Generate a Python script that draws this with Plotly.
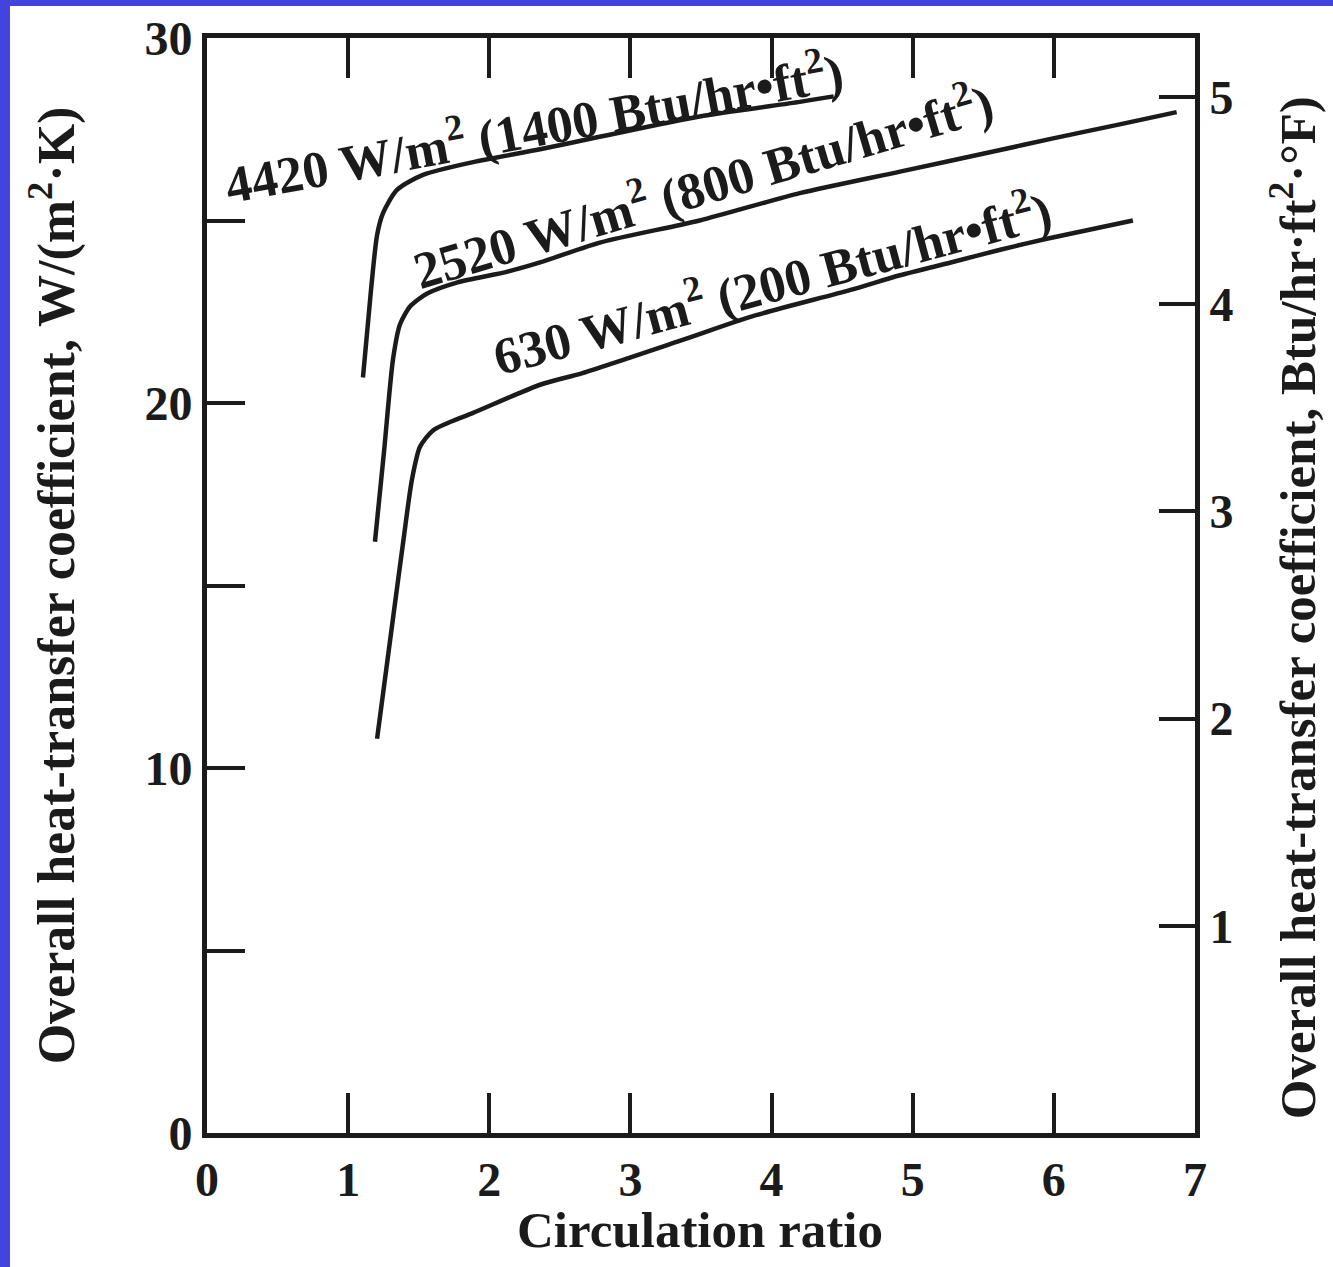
import plotly.graph_objects as go

# ---- data ----
ratio_4420 = [1.105, 1.162, 1.205, 1.247, 1.346, 1.53, 1.885, 2.36, 2.79, 3.49, 4.20, 4.44]
u_4420 = [20.7, 23.1, 24.6, 25.2, 25.84, 26.25, 26.6, 26.95, 27.3, 27.85, 28.25, 28.4]

ratio_2520 = [1.19, 1.255, 1.318, 1.367, 1.44, 1.56, 1.77, 2.13, 2.36, 2.79, 3.49, 4.20, 4.91, 5.62, 5.97, 6.45, 6.87]
u_2520 = [16.2, 18.7, 21.2, 22.15, 22.65, 23.0, 23.3, 23.6, 23.85, 24.4, 25.0, 25.75, 26.34, 26.93, 27.23, 27.62, 27.97]

ratio_630 = [1.205, 1.323, 1.392, 1.452, 1.509, 1.601, 1.722, 1.885, 2.36, 2.66, 3.37, 3.85, 4.56, 4.91, 5.27, 5.62, 5.95, 6.56]
u_630 = [10.8, 14.25, 16.25, 17.9, 18.8, 19.25, 19.48, 19.73, 20.5, 20.82, 21.73, 22.36, 23.1, 23.5, 23.85, 24.2, 24.5, 25.0]

curve_labels = [
    "4420 W/m<sup>2</sup> (1400 Btu/hr\u2022ft<sup>2</sup>)",
    "2520 W/m<sup>2</sup> (800 Btu/hr\u2022ft<sup>2</sup>)",
    "630 W/m<sup>2</sup> (200 Btu/hr\u2022ft<sup>2</sup>)",
]
label_x = [2.31, 3.51, 4.00]
label_y = [27.6, 26.0, 23.35]
label_angle = [-10.5, -16.5, -15]

x_ticks = [0, 1, 2, 3, 4, 5, 6, 7]
y_ticks = [0, 10, 20, 30]
y_minor_ticks = [5, 15, 25]
y2_ticks = [1, 2, 3, 4, 5]
W_PER_BTU = 5.678  # 1 Btu/hr.ft2.F = 5.678 W/m2.K

FONT = "Liberation Serif"
INK = "#1b1b1b"

fig = go.Figure()
for xs, ys in [(ratio_4420, u_4420), (ratio_2520, u_2520), (ratio_630, u_630)]:
    fig.add_trace(go.Scatter(x=xs, y=ys, mode="lines",
                             line=dict(color=INK, width=4.5, shape="spline", smoothing=0.7),
                             showlegend=False, hoverinfo="skip"))

# same curve in Btu units, invisible, so that the right-hand axis is drawn
fig.add_trace(go.Scatter(x=ratio_630, y=[v / W_PER_BTU for v in u_630], yaxis="y2",
                         mode="lines", line=dict(color="rgba(0,0,0,0)", width=0),
                         opacity=0, showlegend=False, hoverinfo="skip"))

for txt, lx, ly, ang in zip(curve_labels, label_x, label_y, label_angle):
    fig.add_annotation(x=lx, y=ly, xref="x", yref="y", text=txt, showarrow=False,
                       textangle=ang, xanchor="center", yanchor="middle",
                       font=dict(family=FONT, size=52, color=INK, weight="bold"))

# axis titles
fig.add_annotation(x=-0.156, y=0.50, xref="paper", yref="paper",
                   text="Overall heat-transfer coefficient, W/(m<sup>2</sup>\u00b7K)",
                   showarrow=False, textangle=-90, xanchor="center", yanchor="middle",
                   font=dict(family=FONT, size=52, color=INK, weight="bold"))
fig.add_annotation(x=1.100, y=0.48, xref="paper", yref="paper",
                   text="Overall heat-transfer coefficient, Btu/hr\u00b7ft<sup>2</sup>\u00b7\u00b0F)",
                   showarrow=False, textangle=-90, xanchor="center", yanchor="middle",
                   font=dict(family=FONT, size=51, color=INK, weight="bold"))
fig.add_annotation(x=0.499, y=-0.089, xref="paper", yref="paper",
                   text="Circulation ratio", showarrow=False,
                   xanchor="center", yanchor="middle",
                   font=dict(family=FONT, size=51, color=INK, weight="bold"))

# blue frame strips (left and top)
fig.add_shape(type="rect", xref="paper", yref="paper",
              x0=-0.2100, x1=-0.1994, y0=-0.13, y1=1.04,
              fillcolor="#4343DD", line=dict(width=0))
fig.add_shape(type="rect", xref="paper", yref="paper",
              x0=-0.2100, x1=1.15, y0=1.0292, y1=1.04,
              fillcolor="#4343DD", line=dict(width=0))

tickfont = dict(family=FONT, size=48, color=INK, weight="bold")
fig.update_layout(
    width=1333, height=1267,
    margin=dict(l=207, r=138, t=38, b=134),
    paper_bgcolor="white", plot_bgcolor="white",
    font=dict(family=FONT, color=INK),
    xaxis=dict(range=[0, 7], tickvals=x_ticks, ticks="inside", ticklen=40, tickwidth=4,
               tickcolor=INK, showline=True, linewidth=5, linecolor=INK, mirror="ticks",
               showgrid=False, zeroline=False, tickfont=tickfont),
    yaxis=dict(range=[0, 30], tickvals=y_ticks, ticks="inside",
               ticklen=38, tickwidth=4, tickcolor=INK, showline=True, linewidth=5,
               linecolor=INK, mirror=True, showgrid=False, zeroline=False, tickfont=tickfont,
               minor=dict(tickvals=y_minor_ticks, ticks="inside", ticklen=38, tickwidth=4,
                          tickcolor=INK, showgrid=False)),
    yaxis2=dict(range=[0, 30 / W_PER_BTU], overlaying="y", side="right",
                tickvals=y2_ticks, ticks="inside", ticklen=36, tickwidth=4, tickcolor=INK,
                showline=True, linewidth=5, linecolor=INK, showgrid=False, zeroline=False,
                tickfont=tickfont),
)

fig.write_html("out.html", config={"displayModeBar": False},
               post_script="document.body.style.margin='0';document.body.style.overflow='hidden';")
